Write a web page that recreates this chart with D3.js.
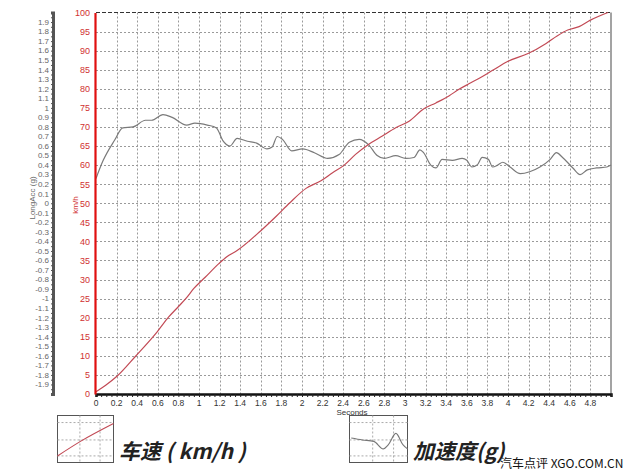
<!DOCTYPE html>
<html><head><meta charset="utf-8">
<script src="https://cdn.jsdelivr.net/npm/d3@7/dist/d3.min.js"></script>
<style>body{margin:0;background:#fff}svg{display:block}</style>
</head><body><svg id="c" width="630" height="473"></svg>
<script>
// ---------- data ----------
const timeTicks = [0,0.2,0.4,0.6,0.8,1,1.2,1.4,1.6,1.8,2,2.2,2.4,2.6,2.8,3,3.2,3.4,3.6,3.8,4,4.2,4.4,4.6,4.8];
const speedTicks = [0,5,10,15,20,25,30,35,40,45,50,55,60,65,70,75,80,85,90,95,100];
const accTicks = [-1.9,-1.8,-1.7,-1.6,-1.5,-1.4,-1.3,-1.2,-1.1,-1,-0.9,-0.8,-0.7,-0.6,-0.5,-0.4,-0.3,-0.2,-0.1,0,0.1,0.2,0.3,0.4,0.5,0.6,0.7,0.8,0.9,1,1.1,1.2,1.3,1.4,1.5,1.6,1.7,1.8,1.9];

const speedTime = [0,0.094,0.206,0.384,0.594,0.706,0.803,0.884,0.948,1.06,1.19,1.27,1.37,1.6,1.75,1.877,2.039,2.184,2.297,2.41,2.52,2.635,2.78,2.91,3.04,3.18,3.30,3.43,3.52,3.62,3.73,3.86,4.0,4.2,4.37,4.48,4.58,4.69,4.8,4.97];
const speedKmh  = [0.6,2.3,4.7,9.9,16.3,20.2,23.0,25.4,27.6,30.6,34.1,36.0,37.6,42.8,46.6,50.0,53.9,55.9,58.0,60.0,62.8,65.2,67.6,69.8,71.5,74.7,76.3,78.2,79.8,81.3,82.9,85.0,87.2,89.3,91.9,93.9,95.4,96.3,98.0,100];

const accTime = [0,0.07,0.18,0.26,0.36,0.48,0.54,0.65,0.74,0.88,0.96,1.08,1.17,1.23,1.30,1.37,1.47,1.56,1.66,1.71,1.76,1.81,1.90,2.006,2.12,2.25,2.36,2.46,2.555,2.65,2.73,2.80,2.91,3.006,3.087,3.145,3.18,3.25,3.30,3.36,3.46,3.555,3.60,3.65,3.70,3.75,3.81,3.85,3.90,3.95,4.02,4.12,4.21,4.31,4.41,4.47,4.53,4.63,4.70,4.77,4.86,4.96,5.0];
const accG    = [0.26,0.45,0.66,0.79,0.80,0.87,0.87,0.93,0.90,0.82,0.84,0.82,0.79,0.66,0.60,0.68,0.65,0.63,0.57,0.59,0.70,0.67,0.55,0.57,0.53,0.47,0.51,0.64,0.67,0.61,0.50,0.47,0.50,0.47,0.48,0.56,0.53,0.40,0.37,0.46,0.45,0.47,0.45,0.38,0.40,0.48,0.46,0.38,0.40,0.43,0.38,0.31,0.33,0.38,0.46,0.53,0.48,0.37,0.30,0.35,0.37,0.38,0.40];

// legend sample shapes (fractions of legend box)
const legSpeedX = [0,0.41,1];
const legSpeedY = [0.86,0.55,0.17];
const legAccX = [0.03,0.22,0.42,0.58,0.67,0.8,0.92,1.0];
const legAccY = [0.48,0.52,0.55,0.71,0.62,0.38,0.62,0.71];

const legendLabels = ["车速 ( km/h )","加速度(g)"];
const watermark = "汽车点评 XGO.COM.CN";

// ---------- drawing ----------
const svg = d3.select("#c");
const x = d3.scaleLinear().domain([0,5]).range([96,611]);
const yS = d3.scaleLinear().domain([0,100]).range([394,12.5]);
const yA = d3.scaleLinear().domain([-2,2]).range([394,12.5]);
const font = "Arial, 'Liberation Sans', sans-serif";

// grid
const grid = svg.append("g").attr("stroke","#9a9a9a").attr("stroke-width",1).attr("stroke-dasharray","2,2");
timeTicks.filter(d=>d>0).forEach(d=>{
  grid.append("line").attr("x1",Math.round(x(d))+0.5).attr("x2",Math.round(x(d))+0.5).attr("y1",yS(100)).attr("y2",yS(0));
});
speedTicks.filter(d=>d>0 && d<100).forEach(d=>{
  grid.append("line").attr("x1",x(0)).attr("x2",x(5)).attr("y1",Math.round(yS(d))+0.5).attr("y2",Math.round(yS(d))+0.5);
});
// top border dashed, right border
svg.append("line").attr("x1",x(0)).attr("x2",x(5)).attr("y1",yS(100)).attr("y2",yS(100))
  .attr("stroke","#333").attr("stroke-width",1.2).attr("stroke-dasharray","4,2");
svg.append("line").attr("x1",x(5)).attr("x2",x(5)).attr("y1",yS(100)).attr("y2",yS(0))
  .attr("stroke","#666").attr("stroke-width",1.2);

// acc line
svg.append("path").datum(accTime.map((t,i)=>[t,accG[i]]))
  .attr("fill","none").attr("stroke","#7a7a7a").attr("stroke-width",1.2)
  .attr("d",d3.line().x(d=>x(d[0])).y(d=>yA(d[1])).curve(d3.curveMonotoneX));
// speed line
svg.append("path").datum(speedTime.map((t,i)=>[t,speedKmh[i]]))
  .attr("fill","none").attr("stroke","#c24a55").attr("stroke-width",1.2)
  .attr("d",d3.line().x(d=>x(d[0])).y(d=>yS(d[1])).curve(d3.curveMonotoneX));

// x axis
const minorT = d3.range(0,5.001,0.05);
const xAx = svg.append("g").attr("transform","translate(0,394)");
xAx.call(d3.axisBottom(x).tickValues(minorT).tickSize(3).tickFormat(""));
xAx.selectAll(".tick line").attr("stroke","#222");
xAx.select(".domain").attr("stroke","#111").attr("stroke-width",2.5);
xAx.selectAll(".tick-l").data(timeTicks).join("text")
  .attr("x",d=>x(d)).attr("y",11.5).attr("text-anchor","middle")
  .attr("font-family",font).attr("font-size",8.5).attr("fill","#333").text(d=>d);
svg.append("text").attr("x",352).attr("y",415).attr("text-anchor","middle")
  .attr("font-family",font).attr("font-size",8).attr("fill","#333").text("Seconds");

// red speed axis
const sAx = svg.append("g").attr("transform","translate(95,0)");
sAx.call(d3.axisLeft(yS).tickValues(speedTicks).tickSize(0).tickPadding(5));
sAx.select(".domain").attr("stroke","#e01010").attr("stroke-width",2.2);
sAx.selectAll(".tick text").attr("font-family",font).attr("font-size",9).attr("fill","#d03030");
svg.append("text").attr("transform","translate(78,205) rotate(-90)").attr("text-anchor","middle")
  .attr("font-family",font).attr("font-size",8).attr("fill","#d03030").text("km/h");

// acc axis
const aAx = svg.append("g").attr("transform","translate(53,0)");
aAx.call(d3.axisLeft(yA).tickValues(d3.range(-2,2.001,0.05)).tickSize(2).tickFormat(""));
aAx.selectAll(".tick line").attr("stroke","#555");
aAx.select(".domain").attr("stroke","#555").attr("stroke-width",3);
aAx.selectAll(".lab").data(accTicks).join("text")
  .attr("x",-4).attr("y",d=>yA(d)).attr("dy","0.35em").attr("text-anchor","end")
  .attr("font-family",font).attr("font-size",8).attr("fill","#666")
  .text(d=>String(d));
svg.append("text").attr("transform","translate(35,198) rotate(-90)").attr("text-anchor","middle")
  .attr("font-family",font).attr("font-size",8).attr("fill","#666").text("LongAcc (g)");

// legends
function legendBox(x0,y0,w,h,xs,ys,color){
  const g = svg.append("g").attr("transform",`translate(${x0},${y0})`);
  g.append("rect").attr("width",w).attr("height",h).attr("fill","#fff").attr("stroke","#555").attr("stroke-width",1);
  const lx = d3.scaleLinear().domain([0,1]).range([0,w]);
  const ly = d3.scaleLinear().domain([0,1]).range([0,h]);
  [0.4,0.76].forEach(f=>g.append("line").attr("x1",lx(f)).attr("x2",lx(f)).attr("y1",0).attr("y2",h)
    .attr("stroke","#aaa").attr("stroke-dasharray","2,2"));
  [0.15,0.52,0.86].forEach(f=>g.append("line").attr("y1",ly(f)).attr("y2",ly(f)).attr("x1",0).attr("x2",w)
    .attr("stroke","#aaa").attr("stroke-dasharray","2,2"));
  g.append("path").datum(xs.map((v,i)=>[v,ys[i]])).attr("fill","none").attr("stroke",color).attr("stroke-width",1.1)
    .attr("d",d3.line().x(d=>lx(d[0])).y(d=>ly(d[1])).curve(d3.curveMonotoneX));
}
legendBox(57.5,415.5,56,47,legSpeedX,legSpeedY,"#c24a55");
legendBox(349.5,415.5,58,47,legAccX,legAccY,"#777");
const cjk = "'Noto Sans CJK SC', sans-serif";
svg.append("text").attr("x",119).attr("y",459).attr("font-family",cjk).attr("font-weight","bold")
  .attr("font-style","italic").attr("font-size",21).attr("fill","#222").text(legendLabels[0]);
svg.append("text").attr("x",413).attr("y",459).attr("font-family",cjk).attr("font-weight","bold")
  .attr("font-style","italic").attr("font-size",21).attr("fill","#222").text(legendLabels[1]);
svg.append("text").attr("x",500).attr("y",468).attr("font-family",cjk)
  .attr("font-size",12).attr("fill","#111").text(watermark);
</script></body></html>
